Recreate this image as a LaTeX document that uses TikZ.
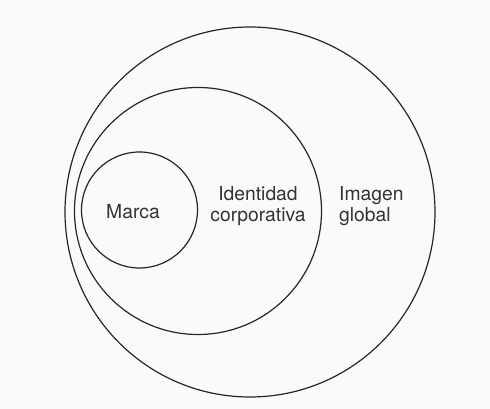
\documentclass[tikz,border=0pt]{standalone}
\usepackage{fontspec}
\setmainfont{TeX Gyre Heros}
\begin{document}
\begin{tikzpicture}[x=1pt,y=1pt,line join=round,line cap=round,
  font=\fontsize{19.3}{20.5}\selectfont,
  ring/.style={draw=black!85,line width=1.2pt},
  lbl/.style={text=black!80,inner sep=0pt}]
  \def\ro{185}
  \def\rm{123.5}
  \def\ri{58}
  \fill[gray!4] (0,0) rectangle (490,409);
  \useasboundingbox (0,0) rectangle (490,409);
  \path (250,197) coordinate (Og)
        (198,198) coordinate (Oc)
        (139.5,199) coordinate (Om);
  % three nested rings
  \draw[ring] (Og) circle (\ro pt);
  \draw[ring] (Oc) circle (\rm pt);
  \draw[ring] (Om) circle (\ri pt);
  \node[lbl] (marca) at (133,197) {Marca};
  \node[lbl,align=center] (ident) at (258,203) {Identidad\\corporativa};
  \node[lbl,align=left,anchor=west] (imagen) at (339,203) {Imagen\\global};
\end{tikzpicture}
\end{document}
